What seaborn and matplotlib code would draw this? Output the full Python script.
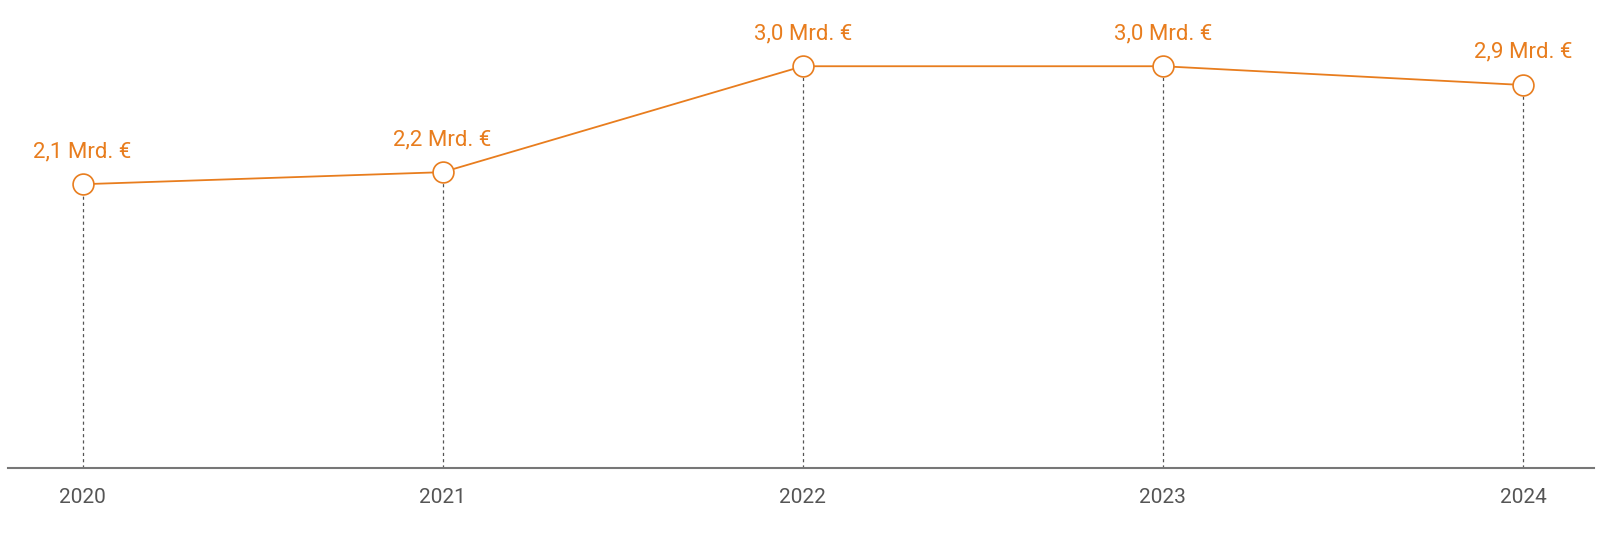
import matplotlib.pyplot as plt
import seaborn as sns
import pandas as pd

# data
years = [2020, 2021, 2022, 2023, 2024]
values = [2.12, 2.21, 3.0, 3.0, 2.86]
labels = ['2,1 Mrd. €', '2,2 Mrd. €', '3,0 Mrd. €', '3,0 Mrd. €', '2,9 Mrd. €']

orange = '#e87d1e'
grey = '#555555'

df = pd.DataFrame({'year': years, 'value': values})

sns.set_style('white')
plt.rcParams['font.family'] = ['Roboto', 'DejaVu Sans']

fig = plt.figure(figsize=(16, 5.45), dpi=100)
ax = fig.add_axes([0.005, 0.1404, 0.991, 0.8596])

# dashed drop lines from each point to the baseline
ax.vlines(df['year'], 0, df['value'], colors=grey, linestyles=(0, (2.5, 2.5)),
          linewidth=0.9, zorder=1)

sns.lineplot(data=df, x='year', y='value', color=orange, linewidth=1.3,
             marker='o', markersize=15, markerfacecolor='white',
             markeredgecolor=orange, markeredgewidth=1.2, ax=ax, zorder=3)

for x, y, t in zip(years, values, labels):
    ax.annotate(t, (x, y), xytext=(0, 16), textcoords='offset points',
                ha='center', va='bottom', color=orange, fontsize=16)

ax.set_xlim(2019.793, 2024.196)
ax.set_ylim(0, 3.494)
ax.set_xticks(years)
ax.set_xticklabels([str(y) for y in years])
ax.set_yticks([])
ax.set_xlabel('')
ax.set_ylabel('')
ax.tick_params(axis='x', length=0, pad=14, labelsize=15, labelcolor=grey)

for side in ['top', 'right', 'left']:
    ax.spines[side].set_visible(False)
ax.spines['bottom'].set_color('#777777')
ax.spines['bottom'].set_linewidth(1.5)

fig.savefig('out.png', dpi=100)
plt.close()
